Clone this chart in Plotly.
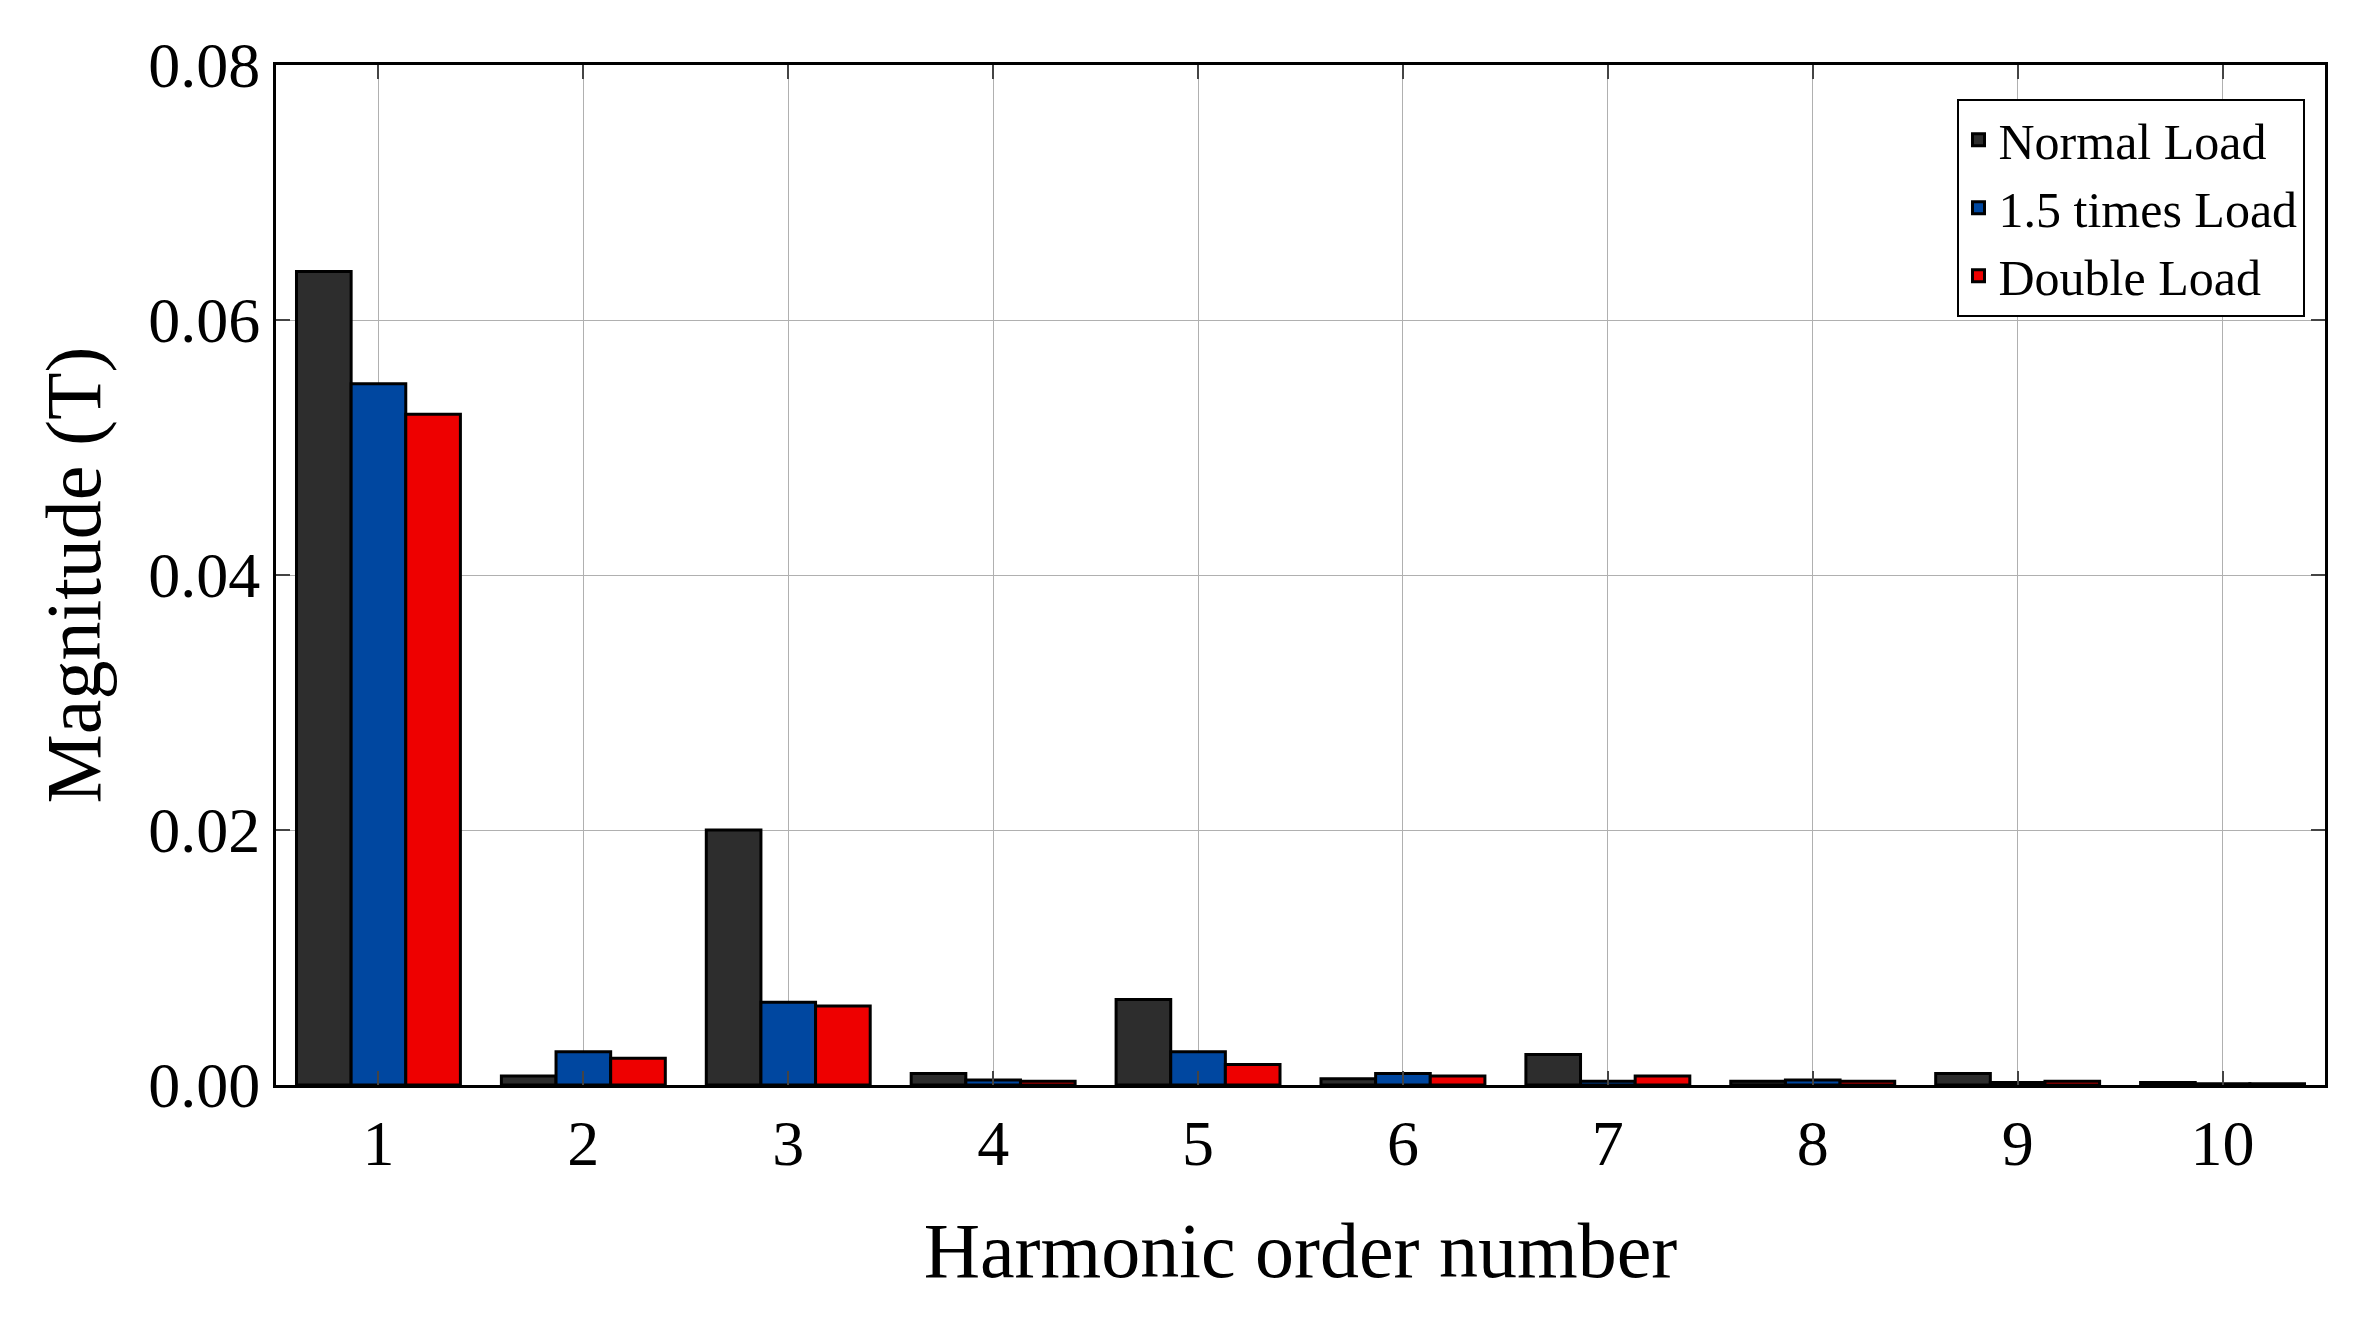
import plotly.graph_objects as go

orders = [1,2,3,4,5,6,7,8,9,10]
normal = [0.0638,0.0007,0.0200,0.0009,0.0067,0.0005,0.0024,0.0003,0.0009,0.0002]
times15 = [0.0550,0.0026,0.0065,0.0004,0.0026,0.0009,0.0003,0.0004,0.0002,0.0001]
double = [0.0526,0.0021,0.0062,0.0003,0.0016,0.0007,0.0007,0.0003,0.0003,0.0001]

fig = go.Figure()
for name, vals, col in [("Normal Load", normal, "#2d2d2d"),
                        ("1.5 times Load", times15, "#0047a0"),
                        ("Double Load", double, "#ee0000")]:
    fig.add_bar(x=orders, y=vals, name=name, marker=dict(color=col, line=dict(color="black", width=3)))

font = "Liberation Serif, Times New Roman, serif"
fig.update_layout(
    width=2357, height=1339, barmode="group", bargap=0.2, bargroupgap=0,
    paper_bgcolor="white", plot_bgcolor="white",
    margin=dict(l=268, r=40, t=57, b=262),
    font=dict(family=font, size=64, color="black"),
    legend=dict(x=0.99, y=0.967, xanchor="right", yanchor="top", bgcolor="white",
                bordercolor="black", borderwidth=2, font=dict(size=50), tracegroupgap=0),
)
fig.update_xaxes(tickmode="array", tickvals=orders, range=[0.5,10.5],
                 showline=True, linecolor="black", linewidth=3, mirror="ticks",
                 ticks="inside", ticklen=14, tickwidth=2, showgrid=True, gridcolor="#b0b0b0", gridwidth=1,
                 title=dict(text="Harmonic order number", font=dict(size=78), standoff=45))
fig.update_yaxes(range=[0,0.08], tickvals=[0,0.02,0.04,0.06,0.08], tickformat=".2f",
                 showline=True, linecolor="black", linewidth=3, mirror="ticks",
                 ticks="inside", ticklen=14, tickwidth=2, showgrid=True, gridcolor="#b0b0b0", gridwidth=1,
                 zeroline=False,
                 title=dict(text="Magnitude (T)", font=dict(size=78), standoff=22))
fig.write_html("out.html")
